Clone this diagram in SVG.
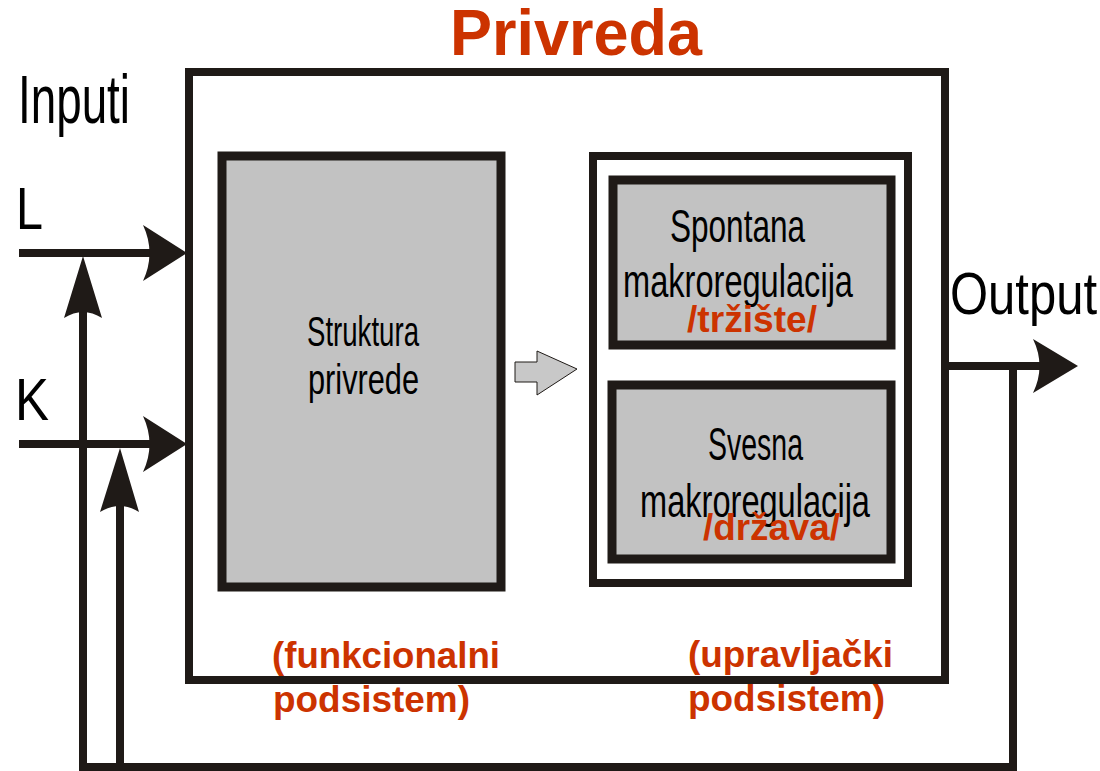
<svg xmlns="http://www.w3.org/2000/svg" width="1100" height="771" viewBox="0 0 1100 771">
<style>
.ln{fill:none;stroke:#1f1a17;stroke-width:8}
.hd{fill:#1f1a17;stroke:none}
.box{fill:#c2c2c2;stroke:#1f1a17;stroke-width:9}
.wbox{fill:#fff;stroke:#1f1a17;stroke-width:8}
.big{font-family:"Liberation Sans",Arial,sans-serif;fill:#000}
.red{font-family:"Liberation Sans",Arial,sans-serif;font-weight:bold;fill:#cc3300}
</style>
<rect width="1100" height="771" fill="#fff"/>
<g id="title"><text class="red" x="450" y="55" font-size="65" textLength="252" lengthAdjust="spacingAndGlyphs">Privreda</text></g>
<g id="privreda"><rect class="wbox" x="189" y="72" width="756" height="608" stroke-width="9"/></g>
<g id="labels">
<text class="big" x="18" y="123" font-size="68" textLength="112" lengthAdjust="spacingAndGlyphs">Inputi</text>
<text class="big" x="16" y="229" font-size="60" textLength="27" lengthAdjust="spacingAndGlyphs">L</text>
<text class="big" x="15" y="420" font-size="60" textLength="34" lengthAdjust="spacingAndGlyphs">K</text>
<text class="big" x="950" y="314" font-size="60" textLength="147" lengthAdjust="spacingAndGlyphs">Output</text>
</g>
<g id="struktura">
<rect class="box" x="222" y="156" width="279" height="431"/>
<text class="big" x="307" y="346" font-size="43" textLength="112" lengthAdjust="spacingAndGlyphs">Struktura</text>
<text class="big" x="308" y="394" font-size="43" textLength="111" lengthAdjust="spacingAndGlyphs">privrede</text>
</g>
<g id="upravljacki">
<rect class="wbox" x="593" y="156" width="315" height="427"/>
</g>
<g id="spontana">
<rect class="box" x="613" y="180" width="278" height="165"/>
<text class="big" x="670" y="242" font-size="46" textLength="135" lengthAdjust="spacingAndGlyphs">Spontana</text>
<text class="big" x="623" y="297" font-size="46" textLength="230" lengthAdjust="spacingAndGlyphs">makroregulacija</text>
<text class="red" x="687" y="332" font-size="36" textLength="130" lengthAdjust="spacingAndGlyphs">/tržište/</text>
</g>
<g id="svesna">
<rect class="box" x="612" y="385" width="279" height="174"/>
<text class="big" x="708" y="460" font-size="46" textLength="95" lengthAdjust="spacingAndGlyphs">Svesna</text>
<text class="big" x="640" y="517" font-size="46" textLength="230" lengthAdjust="spacingAndGlyphs">makroregulacija</text>
<text class="red" x="703" y="540" font-size="36" textLength="137" lengthAdjust="spacingAndGlyphs">/država/</text>
</g>
<g id="subsystem-labels">
<text class="red" x="272" y="668" font-size="37" textLength="228" lengthAdjust="spacingAndGlyphs">(funkcionalni</text>
<text class="red" x="273" y="712" font-size="37" textLength="197" lengthAdjust="spacingAndGlyphs">podsistem)</text>
<text class="red" x="688" y="667" font-size="37" textLength="205" lengthAdjust="spacingAndGlyphs">(upravljački</text>
<text class="red" x="688" y="711" font-size="37" textLength="197" lengthAdjust="spacingAndGlyphs">podsistem)</text>
</g>
<g id="connectors">
<path class="ln" d="M19,253 H150 M19,444 H150 M945,366 H1045" stroke-width="9"/>
<path class="ln" d="M83,300 V767 H1013 V362 M120,500 V767" stroke-width="7"/>
<path class="hd" d="M187,253 L143,225 Q156,253 143,281 Z"/>
<path class="hd" d="M187,444 L143,416 Q156,444 143,472 Z"/>
<path class="hd" d="M1078,366 L1033,339 Q1046,366 1033,393 Z"/>
<path class="hd" d="M83,256 L64,318 Q83,306 102,318 Z"/>
<path class="hd" d="M120,448 L100,512 Q120,500 139,512 Z"/>
<path d="M515,362 H537 V351 L577,369 L537,395 V382 H515 Z" fill="#c8c8c8" stroke="#1f1a17" stroke-width="1"/>
</g>
</svg>
